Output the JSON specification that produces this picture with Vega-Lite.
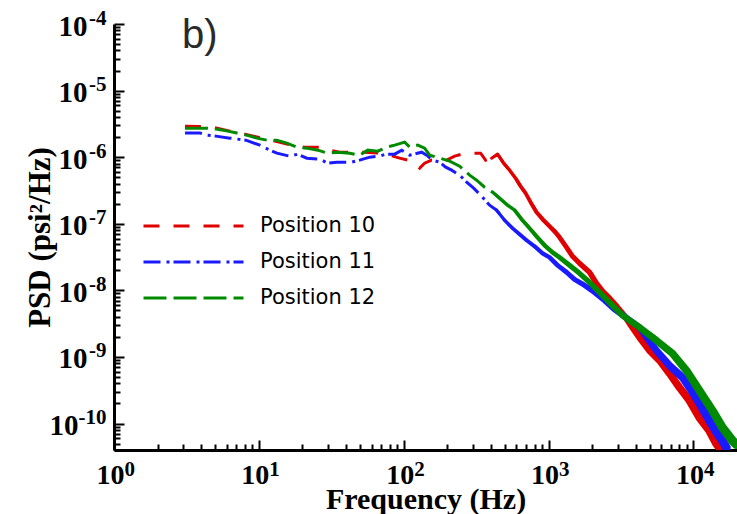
{
  "$schema": "https://vega.github.io/schema/vega-lite/v6.json",
  "width": 623,
  "height": 426,
  "autosize": {"type": "none"},
  "padding": {"left": 114, "top": 24, "right": 0, "bottom": 64},
  "background": "white",
  "config": {"view": {"stroke": null}},
  "resolve": {"axis": {"x": "independent", "y": "independent"}},
  "data": {"values": [
    {"series": "Position 10", "f": 3.09, "psd": 2.92e-6},
    {"series": "Position 10", "f": 3.92, "psd": 2.88e-6},
    {"series": "Position 10", "f": 4.97, "psd": 2.78e-6},
    {"series": "Position 10", "f": 6.31, "psd": 2.46e-6},
    {"series": "Position 10", "f": 8.01, "psd": 2.22e-6},
    {"series": "Position 10", "f": 10.16, "psd": 1.96e-6},
    {"series": "Position 10", "f": 12.89, "psd": 1.74e-6},
    {"series": "Position 10", "f": 16.36, "psd": 1.54e-6},
    {"series": "Position 10", "f": 20.76, "psd": 1.41e-6},
    {"series": "Position 10", "f": 26.34, "psd": 1.41e-6},
    {"series": "Position 10", "f": 30.88, "psd": 1.27e-6},
    {"series": "Position 10", "f": 36.19, "psd": 1.19e-6},
    {"series": "Position 10", "f": 44.5, "psd": 1.19e-6},
    {"series": "Position 10", "f": 53.8, "psd": 1.19e-6},
    {"series": "Position 10", "f": 66.2, "psd": 1.15e-6},
    {"series": "Position 10", "f": 80.1, "psd": 1.07e-6},
    {"series": "Position 10", "f": 93.8, "psd": 9.66e-7},
    {"series": "Position 10", "f": 106.6, "psd": 9.02e-7},
    {"series": "Position 10", "f": 119.1, "psd": 8.13e-7},
    {"series": "Position 10", "f": 128.9, "psd": 6.84e-7},
    {"series": "Position 10", "f": 139.5, "psd": 8.13e-7},
    {"series": "Position 10", "f": 156.0, "psd": 9.02e-7},
    {"series": "Position 10", "f": 177.2, "psd": 8.71e-7},
    {"series": "Position 10", "f": 198.0, "psd": 9.02e-7},
    {"series": "Position 10", "f": 224.8, "psd": 1.035e-6},
    {"series": "Position 10", "f": 251.2, "psd": 1.109e-6},
    {"series": "Position 10", "f": 294.4, "psd": 1.148e-6},
    {"series": "Position 10", "f": 339.6, "psd": 1.148e-6},
    {"series": "Position 10", "f": 367.7, "psd": 9.02e-7},
    {"series": "Position 10", "f": 404.6, "psd": 9.66e-7},
    {"series": "Position 10", "f": 444.9, "psd": 1.109e-6},
    {"series": "Position 10", "f": 489.4, "psd": 8.13e-7},
    {"series": "Position 10", "f": 538.3, "psd": 6.38e-7},
    {"series": "Position 10", "f": 592.2, "psd": 4.83e-7},
    {"series": "Position 10", "f": 641.1, "psd": 3.66e-7},
    {"series": "Position 10", "f": 694.0, "psd": 2.88e-7},
    {"series": "Position 10", "f": 751.4, "psd": 2.11e-7},
    {"series": "Position 10", "f": 826.4, "psd": 1.49e-7},
    {"series": "Position 10", "f": 909.0, "psd": 1.17e-7},
    {"series": "Position 10", "f": 1016, "psd": 9.17e-8},
    {"series": "Position 10", "f": 1100, "psd": 7.71e-8},
    {"series": "Position 10", "f": 1191, "psd": 6.26e-8},
    {"series": "Position 10", "f": 1331, "psd": 4.43e-8},
    {"series": "Position 10", "f": 1464, "psd": 3.24e-8},
    {"series": "Position 10", "f": 1636, "psd": 2.55e-8},
    {"series": "Position 10", "f": 1918, "psd": 1.87e-8},
    {"series": "Position 10", "f": 2143, "psd": 1.27e-8},
    {"series": "Position 10", "f": 2357, "psd": 9.66e-9},
    {"series": "Position 10", "f": 2634, "psd": 7.58e-9},
    {"series": "Position 10", "f": 2944, "psd": 5.75e-9},
    {"series": "Position 10", "f": 3451, "psd": 3.79e-9},
    {"series": "Position 10", "f": 3796, "psd": 2.78e-9},
    {"series": "Position 10", "f": 4242, "psd": 1.96e-9},
    {"series": "Position 10", "f": 4972, "psd": 1.25e-9},
    {"series": "Position 10", "f": 5828, "psd": 8.86e-10},
    {"series": "Position 10", "f": 6831, "psd": 5.65e-10},
    {"series": "Position 10", "f": 8008, "psd": 3.48e-10},
    {"series": "Position 10", "f": 9385, "psd": 2.22e-10},
    {"series": "Position 10", "f": 11000, "psd": 1.23e-10},
    {"series": "Position 10", "f": 12890, "psd": 7.85e-11},
    {"series": "Position 10", "f": 14410, "psd": 5.0e-11},
    {"series": "Position 10", "f": 15110, "psd": 4.35e-11},

    {"series": "Position 11", "f": 3.09, "psd": 2.30e-6},
    {"series": "Position 11", "f": 3.92, "psd": 2.30e-6},
    {"series": "Position 11", "f": 4.38, "psd": 2.14e-6},
    {"series": "Position 11", "f": 5.05, "psd": 2.07e-6},
    {"series": "Position 11", "f": 6.31, "psd": 1.93e-6},
    {"series": "Position 11", "f": 7.05, "psd": 1.87e-6},
    {"series": "Position 11", "f": 8.13, "psd": 1.80e-6},
    {"series": "Position 11", "f": 10.16, "psd": 1.515e-6},
    {"series": "Position 11", "f": 11.53, "psd": 1.318e-6},
    {"series": "Position 11", "f": 13.31, "psd": 1.148e-6},
    {"series": "Position 11", "f": 16.36, "psd": 1.035e-6},
    {"series": "Position 11", "f": 18.58, "psd": 1.109e-6},
    {"series": "Position 11", "f": 21.43, "psd": 9.66e-7},
    {"series": "Position 11", "f": 26.34, "psd": 9.33e-7},
    {"series": "Position 11", "f": 29.92, "psd": 8.13e-7},
    {"series": "Position 11", "f": 34.51, "psd": 8.41e-7},
    {"series": "Position 11", "f": 43.8, "psd": 8.41e-7},
    {"series": "Position 11", "f": 49.7, "psd": 9.02e-7},
    {"series": "Position 11", "f": 58.3, "psd": 1.0e-6},
    {"series": "Position 11", "f": 68.3, "psd": 1.035e-6},
    {"series": "Position 11", "f": 75.1, "psd": 1.109e-6},
    {"series": "Position 11", "f": 86.7, "psd": 1.109e-6},
    {"series": "Position 11", "f": 96.9, "psd": 1.274e-6},
    {"series": "Position 11", "f": 110.0, "psd": 1.071e-6},
    {"series": "Position 11", "f": 133.1, "psd": 1.188e-6},
    {"series": "Position 11", "f": 144.1, "psd": 1.071e-6},
    {"series": "Position 11", "f": 158.5, "psd": 9.02e-7},
    {"series": "Position 11", "f": 177.2, "psd": 8.41e-7},
    {"series": "Position 11", "f": 194.9, "psd": 7.08e-7},
    {"series": "Position 11", "f": 214.3, "psd": 6.38e-7},
    {"series": "Position 11", "f": 243.4, "psd": 5.36e-7},
    {"series": "Position 11", "f": 272.0, "psd": 4.21e-7},
    {"series": "Position 11", "f": 304.0, "psd": 3.42e-7},
    {"series": "Position 11", "f": 345.1, "psd": 2.59e-7},
    {"series": "Position 11", "f": 391.9, "psd": 1.90e-7},
    {"series": "Position 11", "f": 437.8, "psd": 1.60e-7},
    {"series": "Position 11", "f": 497.3, "psd": 1.13e-7},
    {"series": "Position 11", "f": 564.7, "psd": 8.55e-8},
    {"series": "Position 11", "f": 631.0, "psd": 6.95e-8},
    {"series": "Position 11", "f": 705.0, "psd": 5.65e-8},
    {"series": "Position 11", "f": 800.8, "psd": 4.59e-8},
    {"series": "Position 11", "f": 909.0, "psd": 3.60e-8},
    {"series": "Position 11", "f": 1016, "psd": 3.13e-8},
    {"series": "Position 11", "f": 1153, "psd": 2.38e-8},
    {"series": "Position 11", "f": 1331, "psd": 1.87e-8},
    {"series": "Position 11", "f": 1511, "psd": 1.46e-8},
    {"series": "Position 11", "f": 1772, "psd": 1.19e-8},
    {"series": "Position 11", "f": 2076, "psd": 9.33e-9},
    {"series": "Position 11", "f": 2433, "psd": 7.08e-9},
    {"series": "Position 11", "f": 2852, "psd": 5.18e-9},
    {"series": "Position 11", "f": 3343, "psd": 4.06e-9},
    {"series": "Position 11", "f": 4242, "psd": 2.78e-9},
    {"series": "Position 11", "f": 5557, "psd": 1.25e-9},
    {"series": "Position 11", "f": 6831, "psd": 7.45e-10},
    {"series": "Position 11", "f": 8399, "psd": 4.92e-10},
    {"series": "Position 11", "f": 9687, "psd": 3.13e-10},
    {"series": "Position 11", "f": 11000, "psd": 2.0e-10},
    {"series": "Position 11", "f": 12890, "psd": 1.11e-10},
    {"series": "Position 11", "f": 14640, "psd": 7.08e-11},
    {"series": "Position 11", "f": 15850, "psd": 5.55e-11},
    {"series": "Position 11", "f": 16890, "psd": 4.35e-11},

    {"series": "Position 12", "f": 3.09, "psd": 2.73e-6},
    {"series": "Position 12", "f": 3.92, "psd": 2.73e-6},
    {"series": "Position 12", "f": 4.45, "psd": 2.73e-6},
    {"series": "Position 12", "f": 5.05, "psd": 2.64e-6},
    {"series": "Position 12", "f": 6.11, "psd": 2.46e-6},
    {"series": "Position 12", "f": 7.05, "psd": 2.30e-6},
    {"series": "Position 12", "f": 8.26, "psd": 2.14e-6},
    {"series": "Position 12", "f": 9.69, "psd": 1.93e-6},
    {"series": "Position 12", "f": 11.36, "psd": 1.80e-6},
    {"series": "Position 12", "f": 13.31, "psd": 1.80e-6},
    {"series": "Position 12", "f": 15.6, "psd": 1.626e-6},
    {"series": "Position 12", "f": 18.29, "psd": 1.414e-6},
    {"series": "Position 12", "f": 21.43, "psd": 1.366e-6},
    {"series": "Position 12", "f": 25.52, "psd": 1.274e-6},
    {"series": "Position 12", "f": 29.92, "psd": 1.148e-6},
    {"series": "Position 12", "f": 35.05, "psd": 1.188e-6},
    {"series": "Position 12", "f": 42.4, "psd": 1.148e-6},
    {"series": "Position 12", "f": 49.7, "psd": 1.071e-6},
    {"series": "Position 12", "f": 56.5, "psd": 1.274e-6},
    {"series": "Position 12", "f": 66.2, "psd": 1.23e-6},
    {"series": "Position 12", "f": 76.3, "psd": 1.414e-6},
    {"series": "Position 12", "f": 86.7, "psd": 1.515e-6},
    {"series": "Position 12", "f": 101.6, "psd": 1.683e-6},
    {"series": "Position 12", "f": 110.0, "psd": 1.414e-6},
    {"series": "Position 12", "f": 124.9, "psd": 1.515e-6},
    {"series": "Position 12", "f": 139.5, "psd": 1.366e-6},
    {"series": "Position 12", "f": 151.1, "psd": 1.071e-6},
    {"series": "Position 12", "f": 177.2, "psd": 9.66e-7},
    {"series": "Position 12", "f": 207.6, "psd": 8.71e-7},
    {"series": "Position 12", "f": 243.4, "psd": 7.33e-7},
    {"series": "Position 12", "f": 285.3, "psd": 5.36e-7},
    {"series": "Position 12", "f": 318.8, "psd": 4.51e-7},
    {"series": "Position 12", "f": 361.9, "psd": 3.54e-7},
    {"series": "Position 12", "f": 411.0, "psd": 2.98e-7},
    {"series": "Position 12", "f": 459.2, "psd": 2.42e-7},
    {"series": "Position 12", "f": 521.3, "psd": 1.90e-7},
    {"series": "Position 12", "f": 582.9, "psd": 1.60e-7},
    {"series": "Position 12", "f": 651.3, "psd": 1.17e-7},
    {"series": "Position 12", "f": 739.6, "psd": 8.55e-8},
    {"series": "Position 12", "f": 826.4, "psd": 6.48e-8},
    {"series": "Position 12", "f": 938.5, "psd": 4.75e-8},
    {"series": "Position 12", "f": 1066, "psd": 3.72e-8},
    {"series": "Position 12", "f": 1191, "psd": 3.13e-8},
    {"series": "Position 12", "f": 1395, "psd": 2.38e-8},
    {"series": "Position 12", "f": 1636, "psd": 1.80e-8},
    {"series": "Position 12", "f": 1918, "psd": 1.32e-8},
    {"series": "Position 12", "f": 2247, "psd": 9.33e-9},
    {"series": "Position 12", "f": 2634, "psd": 6.61e-9},
    {"series": "Position 12", "f": 3238, "psd": 4.21e-9},
    {"series": "Position 12", "f": 4242, "psd": 2.78e-9},
    {"series": "Position 12", "f": 5557, "psd": 1.77e-9},
    {"series": "Position 12", "f": 7165, "psd": 1.13e-9},
    {"series": "Position 12", "f": 8948, "psd": 6.26e-10},
    {"series": "Position 12", "f": 11000, "psd": 3.13e-10},
    {"series": "Position 12", "f": 13520, "psd": 1.57e-10},
    {"series": "Position 12", "f": 15850, "psd": 8.71e-11},
    {"series": "Position 12", "f": 18580, "psd": 5.55e-11},
    {"series": "Position 12", "f": 19800, "psd": 4.83e-11}
  ]},
  "layer": [
    {
      "mark": {"type": "line", "strokeWidth": 3, "clip": true},
      "encoding": {
        "x": {
          "field": "f", "type": "quantitative",
          "scale": {"type": "log", "domain": [1, 20000], "nice": false},
          "axis": {
            "orient": "bottom",
            "values": [1,2,3,4,5,6,7,8,9,10,20,30,40,50,60,70,80,90,100,200,300,400,500,600,700,800,900,1000,2000,3000,4000,5000,6000,7000,8000,9000,10000,20000],
            "labelExpr": "(abs(log(datum.value)/LN10 - round(log(datum.value)/LN10)) < 0.001) ? '10' : ''",
            "tickSize": {"condition": {"test": "abs(log(datum.value)/LN10 - round(log(datum.value)/LN10)) < 0.001", "value": -10}, "value": -6},
            "tickWidth": 2, "tickColor": "black",
            "domainColor": "black", "domainWidth": 3,
            "labelFont": "Liberation Serif", "labelFontWeight": "bold", "labelFontSize": 28, "labelColor": "black",
            "labelPadding": 21, "labelOffset": -4, "labelFlush": false, "labelOverlap": false,
            "grid": false,
            "title": "Frequency (Hz)", "titleFont": "Liberation Serif", "titleFontWeight": "bold", "titleFontSize": 30, "titleColor": "black", "titlePadding": -9
          }
        },
        "y": {
          "field": "psd", "type": "quantitative",
          "scale": {"type": "log", "domain": [4e-11, 1e-4], "nice": false},
          "axis": {
            "orient": "left",
            "values": [4e-11,5e-11,6e-11,7e-11,8e-11,9e-11,1e-10,2e-10,3e-10,4e-10,5e-10,6e-10,7e-10,8e-10,9e-10,1e-9,2e-9,3e-9,4e-9,5e-9,6e-9,7e-9,8e-9,9e-9,1e-8,2e-8,3e-8,4e-8,5e-8,6e-8,7e-8,8e-8,9e-8,1e-7,2e-7,3e-7,4e-7,5e-7,6e-7,7e-7,8e-7,9e-7,1e-6,2e-6,3e-6,4e-6,5e-6,6e-6,7e-6,8e-6,9e-6,1e-5,2e-5,3e-5,4e-5,5e-5,6e-5,7e-5,8e-5,9e-5,1e-4],
            "labelExpr": "(abs(log(datum.value)/LN10 - round(log(datum.value)/LN10)) < 0.001) ? '10' : ''",
            "tickSize": {"condition": {"test": "abs(log(datum.value)/LN10 - round(log(datum.value)/LN10)) < 0.001", "value": -10}, "value": -6},
            "tickWidth": 2, "tickColor": "black",
            "domainColor": "black", "domainWidth": 3,
            "labelFont": "Liberation Serif", "labelFontWeight": "bold", "labelFontSize": 29, "labelColor": "black",
            "labelPadding": {"condition": {"test": "datum.value < 5e-10", "value": 46}, "value": 37},
            "labelOffset": 2,
            "labelFlush": false, "labelOverlap": false,
            "grid": false,
            "title": "PSD (psi²/Hz)", "titleFont": "Liberation Serif", "titleFontWeight": "bold", "titleFontSize": 31, "titleColor": "black", "titlePadding": -7
          }
        },
        "color": {
          "field": "series", "type": "nominal",
          "scale": {"domain": ["Position 10", "Position 11", "Position 12"], "range": ["#e00000", "#1a1aff", "#008a00"]},
          "legend": {
            "orient": "none", "legendX": 28, "legendY": 192,
            "title": null, "padding": 0,
            "symbolType": "stroke", "symbolSize": 10000, "symbolStrokeWidth": 3,
            "clipHeight": 20, "rowPadding": 15, "labelOffset": 15,
            "labelFont": "DejaVu Sans", "labelFontSize": 21, "labelColor": "black"
          }
        },
        "strokeDash": {
          "field": "series", "type": "nominal",
          "scale": {"domain": ["Position 10", "Position 11", "Position 12"], "range": [[16, 14], [17, 6, 3, 4], [23, 7]]}
        }
      }
    },
    {
      "transform": [{"filter": "datum.f >= 400"}],
      "mark": {"type": "trail", "clip": true, "opacity": 1},
      "encoding": {
        "x": {
          "field": "f", "type": "quantitative",
          "axis": {
            "orient": "bottom",
            "values": [1, 10, 100, 1000, 10000],
            "labelExpr": "'' + round(log(datum.value)/LN10)",
            "ticks": false, "tickSize": 0, "domain": false, "grid": false,
            "labelFont": "Liberation Serif", "labelFontWeight": "bold", "labelFontSize": 21, "labelColor": "black",
            "labelAlign": "left", "labelPadding": 8, "labelOffset": 10, "labelFlush": false, "labelOverlap": false,
            "title": null
          }
        },
        "y": {
          "field": "psd", "type": "quantitative",
          "axis": {
            "orient": "left",
            "values": [1e-10, 1e-9, 1e-8, 1e-7, 1e-6, 1e-5, 1e-4],
            "labelExpr": "'' + round(log(datum.value)/LN10)",
            "ticks": false, "tickSize": 0, "domain": false, "grid": false,
            "labelFont": "Liberation Serif", "labelFontWeight": "bold", "labelFontSize": 21, "labelColor": "black",
            "labelAlign": "right", "labelPadding": 8, "labelOffset": -6, "labelFlush": false, "labelOverlap": false,
            "title": null
          }
        },
        "fill": {
          "field": "series", "type": "nominal",
          "scale": {"domain": ["Position 10", "Position 11", "Position 12"], "range": ["#e00000", "#1a1aff", "#008a00"]},
          "legend": null
        },
        "size": {
          "field": "f", "type": "quantitative",
          "scale": {"type": "log", "domain": [400, 20000], "range": [3, 9]},
          "legend": null
        }
      }
    },
    {
      "data": {"values": [{}]},
      "mark": {"type": "text", "font": "Liberation Sans", "fontSize": 40, "color": "#2a2a2a", "align": "left", "baseline": "alphabetic"},
      "encoding": {
        "x": {"datum": 2.95, "type": "quantitative", "axis": null},
        "y": {"datum": 4.4e-5, "type": "quantitative", "axis": null},
        "text": {"value": "b)"}
      }
    }
  ]
}
